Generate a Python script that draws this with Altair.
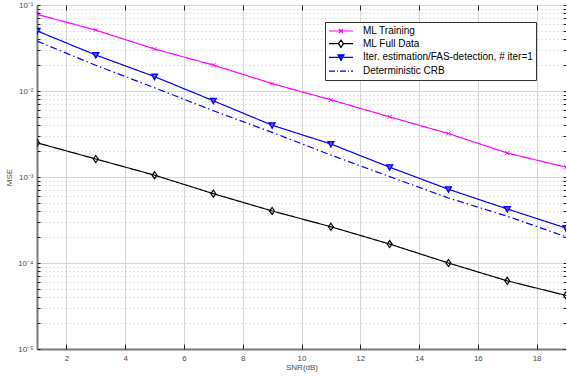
import altair as alt
import pandas as pd

snr = [1, 3, 5, 7, 9, 11, 13, 15, 17, 19]
ml_training = [0.078, 0.051, 0.0308, 0.0200, 0.0122, 0.0079, 0.0050, 0.0032, 0.0019, 0.0013]
ml_full = [0.0025, 0.00162, 0.00105, 0.00064, 0.000403, 0.000264, 0.000166, 0.0001, 0.000062, 0.000042]
iter_est = [0.050, 0.0262, 0.0147, 0.0077, 0.0040, 0.00242, 0.0013, 0.00072, 0.000425, 0.000255]
crb = [0.038, 0.0199, 0.0109, 0.0059, 0.0033, 0.0018, 0.00101, 0.00057, 0.00035, 0.000202]

series_names = ["ML Training", "ML Full Data",
                "Iter. estimation/FAS-detection, # iter=1", "Deterministic CRB"]
series_values = [ml_training, ml_full, iter_est, crb]
colors = ["#ff00ff", "#000000", "#0000ff", "#0000ff"]
legend_fills = ["transparent", "transparent", "#0000ff", "transparent"]
legend_paths = [
    "M-2.4,0H2.4M-0.4,-0.4L0.4,0.4M-0.4,0.4L0.4,-0.4",
    "M-2.4,0H-0.48M0.48,0H2.4M-0.48,0L0,-0.72L0.48,0L0,0.72Z",
    "M-2.4,0H2.4M-0.6,-0.52L0.6,-0.52L0,0.6Z",
    "M-2.4,0H-1.2M-0.8,0H-0.6M-0.2,0H1.0M1.4,0H1.6M2.0,0H2.4",
]
x_major = [2, 4, 6, 8, 10, 12, 14, 16, 18]
y_major = [1e-5, 1e-4, 1e-3, 1e-2, 1e-1]
y_minor = [m * d for d in [1e-5, 1e-4, 1e-3, 1e-2] for m in range(2, 10)]

rows = []
for name, vals in zip(series_names, series_values):
    for s, v in zip(snr, vals):
        rows.append({"snr": s, "mse": v, "series": name})
df = pd.DataFrame(rows)

FONT = "Liberation Sans"
W, H = 529, 344
xscale = alt.Scale(domain=[1, 19], nice=False, zero=False)
yscale = alt.Scale(type="log", domain=[1e-5, 1e-1], nice=False)

label_expr = ("datum.value > 0.05 ? '10⁻¹' : datum.value > 0.005 ? '10⁻²' : "
              "datum.value > 0.0005 ? '10⁻³' : datum.value > 0.00005 ? '10⁻⁴' : '10⁻⁵'")


def axis_layer(xaxis, yaxis):
    return alt.Chart(df).mark_point(opacity=0).encode(
        x=alt.X("snr:Q", scale=xscale, axis=xaxis),
        y=alt.Y("mse:Q", scale=yscale, axis=yaxis),
    )


no_axis_common = dict(labels=False, grid=False, domain=False, title=None)

major = axis_layer(
    alt.Axis(values=x_major, orient="bottom", grid=True, gridColor="#d6d6d6", gridWidth=1,
             ticks=False, domain=True, domainColor="#7a7a7a", domainWidth=2,
             labelFont=FONT, labelFontSize=8, labelColor="#4d4d4d", labelPadding=5,
             title="SNR(dB)", titleFont=FONT, titleFontSize=8, titleColor="#4d4d4d",
             titleFontWeight="normal", titlePadding=1),
    alt.Axis(values=y_major, orient="left", grid=True, gridColor="#d6d6d6", gridWidth=1,
             ticks=False, domain=True, domainColor="#7a7a7a", domainWidth=2,
             labelFont=FONT, labelFontSize=8, labelColor="#4d4d4d", labelPadding=4,
             labelExpr=label_expr,
             title="MSE", titleFont=FONT, titleFontSize=8, titleColor="#4d4d4d",
             titleFontWeight="normal", titlePadding=4),
)
minor = axis_layer(
    None,
    alt.Axis(values=y_minor, orient="left", grid=True, gridColor="#c4c4c4", gridDash=[1, 3],
             gridWidth=1, ticks=False, labels=False, domain=False, title=None),
)
ticks1 = axis_layer(
    alt.Axis(values=x_major, orient="top", offset=-H, ticks=True, tickSize=5, tickColor="#222",
             tickWidth=1, zindex=1, **no_axis_common),
    alt.Axis(values=y_major + y_minor, orient="right", offset=-W, ticks=True, tickSize=3,
             tickColor="#222", tickWidth=1, zindex=1, **no_axis_common),
)
ticks2 = axis_layer(
    alt.Axis(values=x_major, orient="bottom", offset=-H, ticks=True, tickSize=5, tickColor="#222",
             tickWidth=1, zindex=1, **no_axis_common),
    alt.Axis(values=y_major + y_minor, orient="left", offset=-W, ticks=True, tickSize=3,
             tickColor="#222", tickWidth=1, zindex=1, **no_axis_common),
)

marker_paths = {
    "ML Training": ("M-1,-1L1,1M-1,1L1,-1", 16, "transparent", 1.0),
    "ML Full Data": ("M-0.7,0L0,-1L0.7,0L0,1Z", 49, "transparent", 1.2),
    "Iter. estimation/FAS-detection, # iter=1": ("M-1,-0.8L1,-0.8L0,1Z", 36, "#5555ff", 1.3),
}

data_layers = []
for name, col in zip(series_names, colors):
    sub = alt.Chart(df).transform_filter(alt.datum.series == name)
    dash = [7, 3, 1.5, 3] if name == "Deterministic CRB" else [1, 0]
    line = sub.mark_line(color=col, strokeWidth=1.2, strokeDash=dash, clip=True).encode(
        x=alt.X("snr:Q", scale=xscale, axis=None),
        y=alt.Y("mse:Q", scale=yscale, axis=None),
    )
    data_layers.append(line)
    if name in marker_paths:
        path, size, fill, sw = marker_paths[name]
        pts = sub.mark_point(shape=path, size=size, stroke=col, fill=fill, fillOpacity=1,
                             strokeWidth=sw, opacity=1, clip=True).encode(
            x=alt.X("snr:Q", scale=xscale, axis=None),
            y=alt.Y("mse:Q", scale=yscale, axis=None),
        )
        data_layers.append(pts)

legend_layer = alt.Chart(df).transform_filter("false").mark_point(opacity=1).encode(
    x=alt.X("snr:Q", scale=xscale, axis=None),
    y=alt.Y("mse:Q", scale=yscale, axis=None),
    stroke=alt.Stroke("series:N", sort=series_names,
                      scale=alt.Scale(domain=series_names, range=colors),
                      legend=alt.Legend(title=None)),
    shape=alt.Shape("series:N", sort=series_names,
                    scale=alt.Scale(domain=series_names, range=legend_paths),
                    legend=alt.Legend(title=None)),
    fill=alt.Fill("series:N", sort=series_names,
                  scale=alt.Scale(domain=series_names, range=legend_fills),
                  legend=alt.Legend(title=None)),
)

chart = alt.layer(major, minor, ticks1, ticks2, *data_layers, legend_layer).resolve_axis(
    x="independent", y="independent"
).properties(
    width=W, height=H,
    autosize=alt.AutoSizeParams(type="none"),
    padding={"left": 37, "top": 5, "right": 0, "bottom": 28},
    background="white",
).configure_view(
    stroke="#4d4d4d", strokeWidth=1,
).configure_legend(
    orient="none", legendX=288, legendY=17,
    strokeColor="#333333", fillColor="white", padding=3,
    labelFont=FONT, labelFontSize=10, labelColor="#000000", labelLimit=400,
    symbolSize=100, symbolStrokeWidth=1.2, symbolType="circle",
    symbolOffset=7, labelOffset=16, rowPadding=1.7,
)

chart.save("out.html", embed_options={"renderer": "svg", "actions": False})
